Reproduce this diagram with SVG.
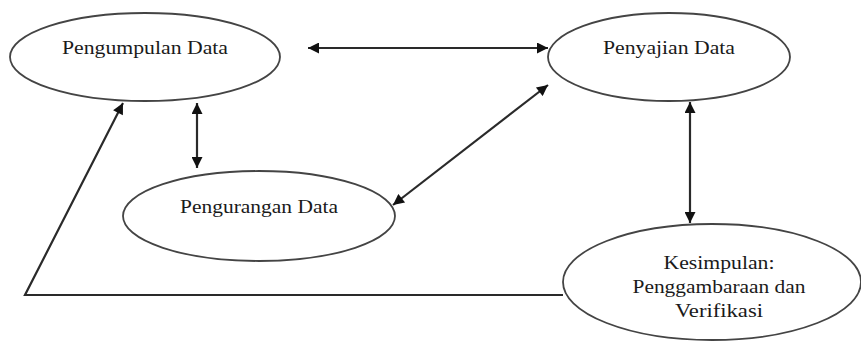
<svg xmlns="http://www.w3.org/2000/svg" width="861" height="341" viewBox="0 0 861 341">
<style>
.node ellipse{fill:#fff;stroke:#444;stroke-width:1.8}
.node text{font-family:'Liberation Serif','Times New Roman',serif;font-size:18.5px;fill:#1a1a1a;text-anchor:middle}
.conn line,.conn polyline{stroke:#2a2a2a;stroke-width:2.2;fill:none}
</style>
<defs>
<marker id="ah" viewBox="0 0 10 10" refX="10" refY="5" markerWidth="6" markerHeight="5" markerUnits="strokeWidth" orient="auto-start-reverse">
<path d="M0,0 L10,5 L0,10 z" fill="#111"/>
</marker>
</defs>
<rect width="861" height="341" fill="#fff"/>
<g id="n-pengumpulan" class="node">
<ellipse cx="145" cy="57" rx="135" ry="44"/>
<text x="145" y="54" textLength="166" lengthAdjust="spacingAndGlyphs">Pengumpulan Data</text>
</g>
<g id="n-penyajian" class="node">
<ellipse cx="669" cy="57" rx="121" ry="44"/>
<text x="669" y="54" textLength="132" lengthAdjust="spacingAndGlyphs">Penyajian Data</text>
</g>
<g id="n-pengurangan" class="node">
<ellipse cx="259" cy="216" rx="136" ry="45"/>
<text x="259" y="213" textLength="158" lengthAdjust="spacingAndGlyphs">Pengurangan Data</text>
</g>
<g id="n-kesimpulan" class="node">
<ellipse cx="712" cy="282" rx="149" ry="58"/>
<text x="719" y="269" textLength="111" lengthAdjust="spacingAndGlyphs">Kesimpulan:</text>
<text x="719" y="293" textLength="173" lengthAdjust="spacingAndGlyphs">Penggambaraan dan</text>
<text x="719" y="317" textLength="88" lengthAdjust="spacingAndGlyphs">Verifikasi</text>
</g>
<g id="connectors" class="conn">
<line x1="308" y1="48" x2="548" y2="48" marker-start="url(#ah)" marker-end="url(#ah)"/>
<line x1="197" y1="103" x2="197" y2="168" marker-start="url(#ah)" marker-end="url(#ah)"/>
<line x1="393" y1="205" x2="548" y2="85" marker-start="url(#ah)" marker-end="url(#ah)"/>
<line x1="690" y1="102" x2="690" y2="223" marker-start="url(#ah)" marker-end="url(#ah)"/>
<polyline points="563,295 25,295 123,103" marker-end="url(#ah)"/>
</g>
</svg>
